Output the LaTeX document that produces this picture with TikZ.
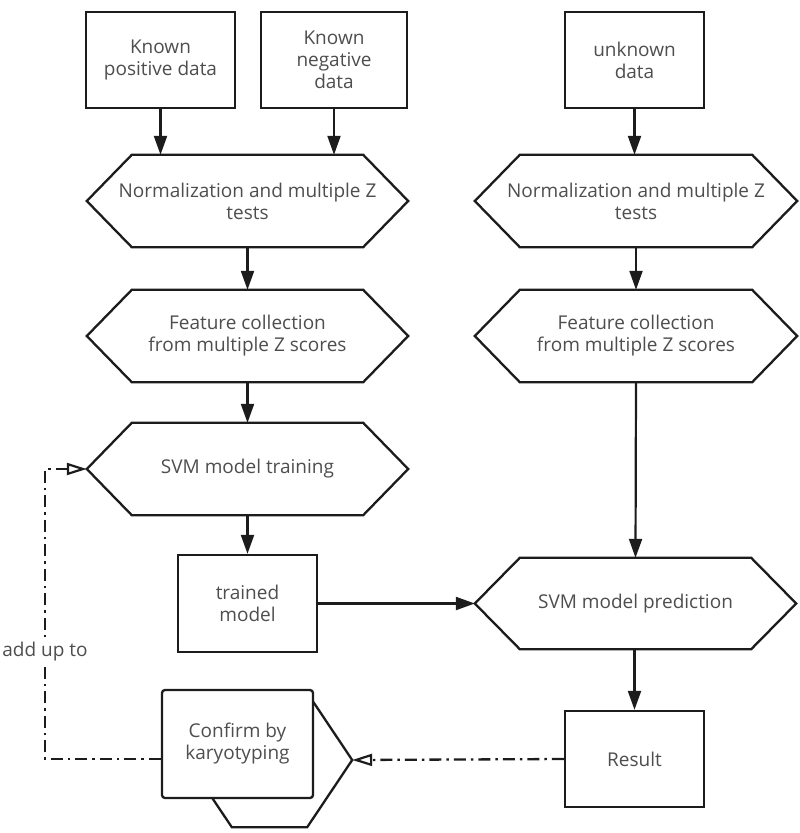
\documentclass[tikz,border=0pt]{standalone}
\usepackage{fontspec}
\setmainfont{Open Sans}
\usetikzlibrary{arrows.meta,calc}
\definecolor{lin}{HTML}{1C1C1C}
\definecolor{txt}{HTML}{4E4E4E}
\tikzset{
  base/.style={font=\fontsize{19}{22}\selectfont, text=txt, align=center, inner sep=0pt},
  boxnode/.style={base, draw=lin, line width=2.3pt, fill=white},
  hexbox/.style={base, draw=none},
  shapeline/.style={draw=lin, line width=2.3pt, fill=white, line join=miter},
  flow/.style={draw=lin, line width=2.2pt, -{Triangle[length=19pt,width=13pt]}},
  dashdot/.style={draw=lin, line width=2.3pt, dash pattern=on 12pt off 5pt on 2.5pt off 5pt},
  openarrow/.style={-{Triangle[open,length=20pt,width=12pt,line width=2.2pt]}},
}
\newcommand\hexnode[6]{% name, cx, cy, width, height, text
  \node[hexbox, minimum width=#4pt, minimum height=#5pt] (#1) at (#2,#3) {#6};
  \draw[shapeline] (#1.west) -- ([xshift=45pt]#1.north west) -- ([xshift=-45pt]#1.north east)
     -- (#1.east) -- ([xshift=-45pt]#1.south east) -- ([xshift=45pt]#1.south west) -- cycle;
  \node[hexbox] at (#1.center) {#6};
}
\begin{document}
\begin{tikzpicture}[x=1pt,y=-1pt]
\useasboundingbox (0,0) rectangle (800,833);

% top boxes
\node[boxnode, minimum width=149pt, minimum height=96pt] (kp) at (160.5,60) {Known\\positive data};
\node[boxnode, minimum width=146pt, minimum height=96pt] (kn) at (334,60) {Known\\negative\\data};
\node[boxnode, minimum width=139pt, minimum height=96pt] (ud) at (634.5,60) {unknown\\data};

% hexagons
\hexnode{nl}{247.5}{201}{321}{92}{Normalization and multiple Z\\tests}
\hexnode{nr}{636}{201}{322}{92}{Normalization and multiple Z\\tests}
\hexnode{fl}{247.5}{336}{321}{92}{Feature collection\\from multiple Z scores}
\hexnode{fr}{636}{336}{322}{92}{Feature collection\\from multiple Z scores}
\hexnode{st}{247.5}{469}{321}{92}{SVM model training}
\hexnode{sp}{635.5}{603.5}{321}{91}{SVM model prediction}

% trained model and result
\node[boxnode, minimum width=139pt, minimum height=97pt] (tm) at (247.5,603.5) {trained\\model};
\node[boxnode, minimum width=139pt, minimum height=96pt] (res) at (634.5,759) {Result};

% confirm by karyotyping (stacked shape)
\hexnode{back}{269.5}{760}{165}{134}{}
\node[boxnode, rounded corners=3pt, minimum width=151pt, minimum height=108pt] (cf) at (237.5,744) {Confirm by\\karyotyping};

% solid connectors
\draw[flow] (kp.south) -- (kp.south |- nl.north);
\draw[flow] (kn.south) -- (kn.south |- nl.north);
\draw[flow] (ud.south) -- (ud.south |- nr.north);
\draw[flow] (nl.south) -- (fl.north);
\draw[flow] (nr.south) -- (fr.north);
\draw[flow] (fl.south) -- (st.north);
\draw[flow] (st.south) -- (tm.north);
\draw[flow] (fr.south) -- (sp.north);
\draw[flow] (tm.east) -- (tm.east -| sp.west);
\draw[flow] (sp.south) -- (sp.south -| res.north) -- (res.north);

% dash-dot feedback
\draw[dashdot, openarrow] (res.west) -- (back.east);
\coordinate (c1) at (45,759);
\coordinate (c2) at (45,469);
\draw[dashdot, openarrow] (cf.west |- c1) -- (c1) -- (c2) -- (st.west);
\node[base, fill=white, inner sep=2pt] (lbl) at (45,652) {add up to};
\end{tikzpicture}
\end{document}
